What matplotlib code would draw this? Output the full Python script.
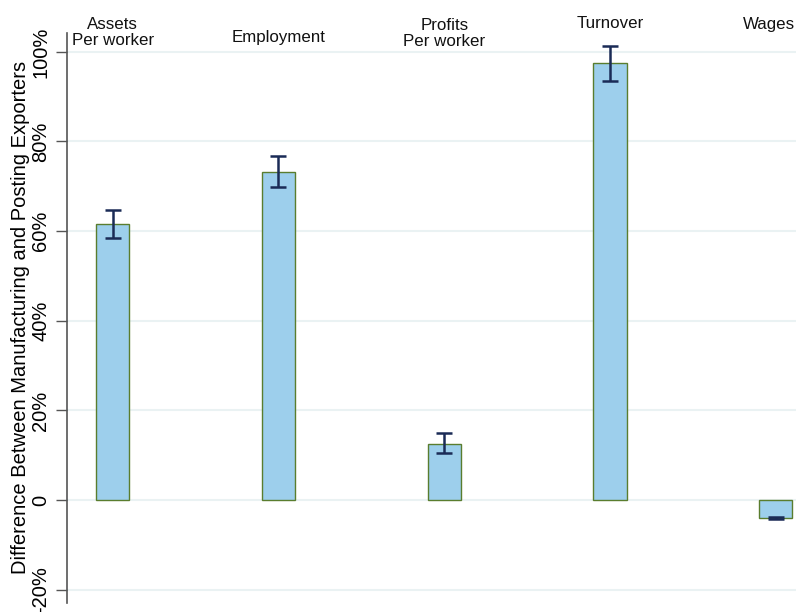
# Bar chart: difference between manufacturing and posting exporters
import numpy as np
import matplotlib
matplotlib.use("Agg")
import matplotlib.pyplot as plt

plt.rcParams['font.family'] = ['Liberation Sans', 'DejaVu Sans']

# Data (percent)
categories = ['Assets\nPer worker', 'Employment', 'Profits\nPer worker', 'Turnover', 'Wages']
diff = [61.6, 73.2, 12.6, 97.4, -4.0]
ci_low = [58.4, 69.9, 10.5, 93.5, -4.3]
ci_high = [64.8, 76.8, 15.0, 101.3, -3.7]
yticks = [-20, 0, 20, 40, 60, 80, 100]
ytick_labels = ['-20%', '0', '20%', '40%', '60%', '80%', '100%']

# label baselines (pixels from top of figure)
label_base_px = [45, 42, 46, 27.5, 29]

W, H = 796, 612
fig = plt.figure(figsize=(W / 100, H / 100), dpi=100)
ax = fig.add_axes([66.7 / W, 1 - 602.7 / H, 1 - 66.7 / W, (602.7 - 33) / H])

x = np.arange(len(categories))
ax.bar(x, diff, width=0.2, color='#9dcfec', edgecolor='#5a7d2e', linewidth=1.0, zorder=3)
diff = np.array(diff)
yerr = [diff - np.array(ci_low), np.array(ci_high) - diff]
ax.errorbar(x, diff, yerr=yerr, fmt='none', ecolor='#1a2b56', elinewidth=1.8,
            capsize=5.5, capthick=1.8, zorder=4)

ax.set_xlim(-0.277, 4.122)
ax.set_ylim(-22.9, 104.2)
ax.set_yticks(yticks)
ax.set_yticklabels(ytick_labels, rotation=90, va='center', fontsize=14.5)
ax.tick_params(axis='y', length=8, width=1, color='#555555', pad=4)
ax.set_xticks([])
ax.grid(axis='y', color='#eaf2f3', linewidth=1.5, zorder=0)
ax.set_axisbelow(True)
for s in ['top', 'right', 'bottom']:
    ax.spines[s].set_visible(False)
ax.spines['left'].set_color('#555555')
ax.spines['left'].set_linewidth(1.2)

ax.set_ylabel('Difference Between Manufacturing and Posting Exporters', fontsize=14.5, labelpad=1)

renderer = fig.canvas.get_renderer()
for xi, lab, by in zip(x, categories, label_base_px):
    xd = ax.transData.transform((xi, 0))[0] / W
    t = fig.text(xd, 1 - by / H, lab, ha='center', va='baseline', fontsize=12.2,
                 linespacing=1.1, color='#111111')
    bb = t.get_window_extent(renderer)
    if bb.x1 > W - 1:
        t.set_x((W - 1) / W)
        t.set_ha('right')

fig.savefig('out.png', dpi=100)
